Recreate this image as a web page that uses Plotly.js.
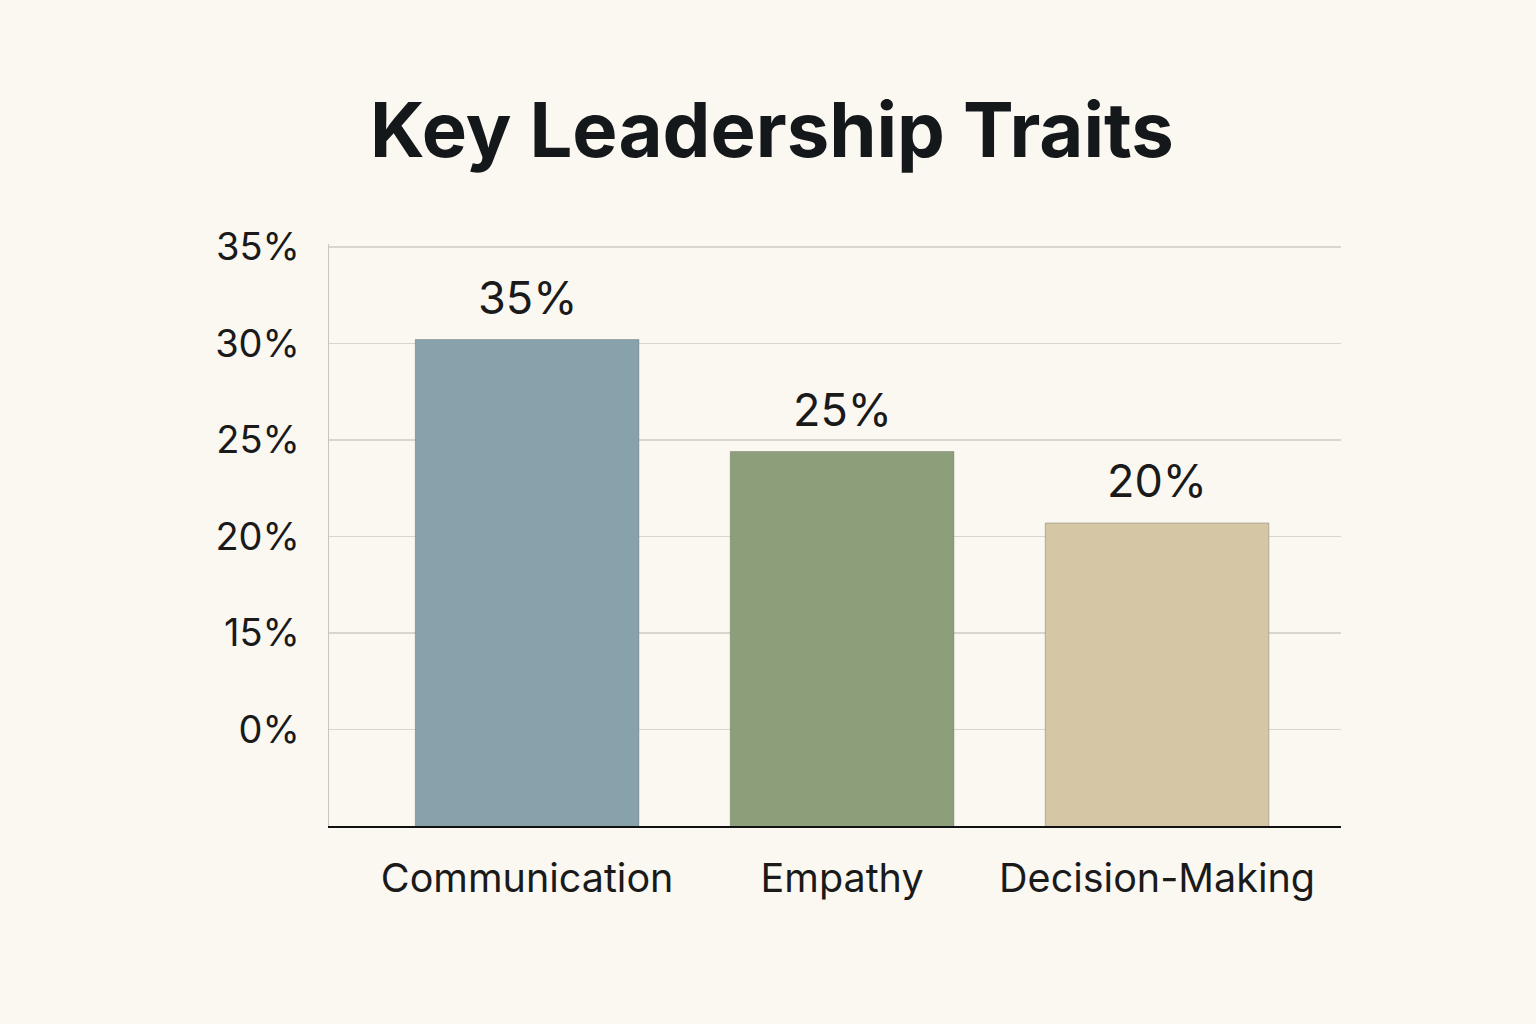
<!DOCTYPE html>
<html>
<head>
<meta charset="utf-8">
<script src="https://cdn.plot.ly/plotly-3.0.1.min.js"></script>
<style>html,body{margin:0;padding:0;background:#FBF8F2;}#chart{width:1536px;height:1024px;}</style>
</head>
<body>
<div id="chart"></div>
<script>
// Data
const categories = ['Communication', 'Empathy', 'Decision-Making'];
// bar heights as read against the drawn axis (percent units of the axis)
const barValues = [30.2, 24.4, 20.7];
// value labels printed above the bars
const barLabels = ['35%', '25%', '20%'];
const barColors = ['#87A2AB', '#8C9E7A', '#D5C6A6'];
// y-axis ticks as drawn (first tick is labelled 0%)
const tickPositions = [10, 15, 20, 25, 30, 35];
const tickLabels = ['0%', '15%', '20%', '25%', '30%', '35%'];

const font = 'Inter, "Liberation Sans", sans-serif';

const trace = {
  type: 'bar',
  x: categories,
  y: barValues,
  width: 0.71,
  marker: {color: barColors, line: {color: 'rgba(90,90,80,0.35)', width: 1}},
  hoverinfo: 'none'
};

const annotations = categories.map((c, i) => ({
  x: c, y: barValues[i], xref: 'x', yref: 'y',
  text: barLabels[i], showarrow: false,
  yanchor: 'bottom', yshift: 13,
  font: {family: font, size: 45, color: '#1a1a1a'}
}));

const layout = {
  width: 1536, height: 1024,
  paper_bgcolor: '#FBF8F2', plot_bgcolor: '#FBF8F2',
  margin: {l: 329, r: 195, t: 244, b: 198},
  showlegend: false,
  title: {
    text: '<b>Key Leadership Traits</b>',
    x: 772/1536, xref: 'container', xanchor: 'center',
    y: 1 - 130/1024, yref: 'container', yanchor: 'middle',
    font: {family: font, size: 76, color: '#15181b'}
  },
  xaxis: {
    type: 'category',
    range: [-0.629, 2.584],
    showgrid: false, zeroline: false,
    showline: true, linecolor: '#111', linewidth: 2,
    ticks: 'outside', ticklen: 17, tickcolor: 'rgba(0,0,0,0)',
    tickfont: {family: font, size: 39.5, color: '#1a1a1a'}
  },
  yaxis: {
    range: [5, 35.15],
    tickmode: 'array', tickvals: tickPositions, ticktext: tickLabels,
    showgrid: true, gridcolor: '#D9D6CE', gridwidth: 1.5,
    zeroline: false,
    showline: true, linecolor: '#C9C6BE', linewidth: 1.5,
    ticks: 'outside', ticklen: 20, tickcolor: 'rgba(0,0,0,0)',
    tickfont: {family: font, size: 38, color: '#1a1a1a'}
  },
  annotations: annotations
};

Plotly.newPlot('chart', [trace], layout, {displayModeBar: false, staticPlot: true});
</script>
</body>
</html>
